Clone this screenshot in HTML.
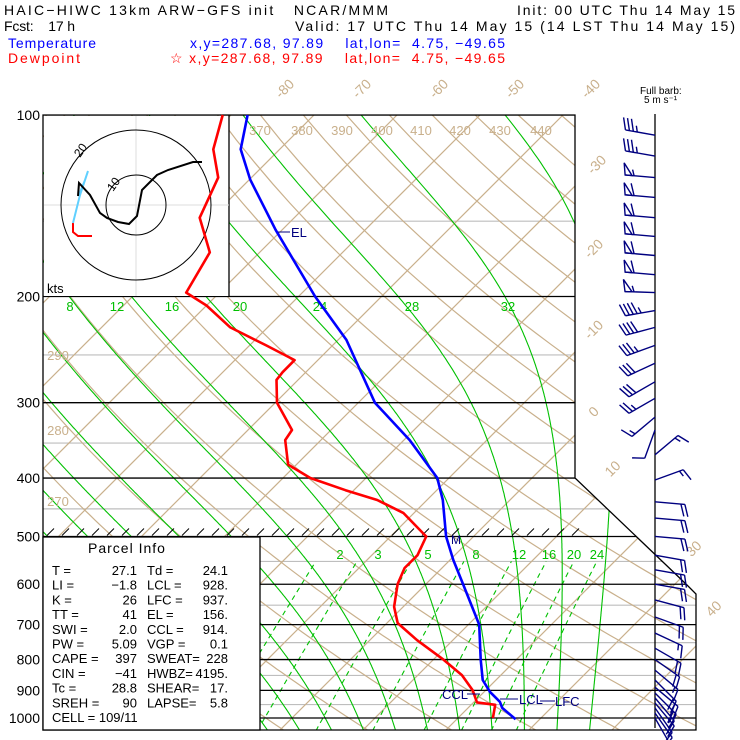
<!DOCTYPE html>
<html><head><meta charset="utf-8">
<style>
html,body{margin:0;padding:0;background:#fff;}
svg{display:block;font-family:"Liberation Sans",sans-serif;}
</style></head>
<body>
<svg id="chart" width="740" height="740" viewBox="0 0 740 740" xmlns="http://www.w3.org/2000/svg">
<defs>
<clipPath id="plotclip"><polygon points="43,115 575,115 575,478 687,585 696,594 696,730 43,730"/></clipPath>
</defs>
<g id="header" font-size="14">
<text x="4" y="15" textLength="384" lengthAdjust="spacing" xml:space="preserve">HAIC−HIWC 13km ARW−GFS init   NCAR/MMM</text>
<text x="517" y="15" textLength="218" lengthAdjust="spacing">Init: 00 UTC Thu 14 May 15</text>
<text x="4" y="31" textLength="71" lengthAdjust="spacing" xml:space="preserve">Fcst:    17 h</text>
<text x="295" y="31" textLength="440" lengthAdjust="spacing">Valid: 17 UTC Thu 14 May 15 (14 LST Thu 14 May 15)</text>
<text x="8" y="48" fill="#0000ff" textLength="88" lengthAdjust="spacing">Temperature</text>
<text x="190" y="48" fill="#0000ff" textLength="315" lengthAdjust="spacing" xml:space="preserve">x,y=287.68, 97.89    lat,lon=  4.75, −49.65</text>
<text x="8" y="63" fill="#ff0000" textLength="72" lengthAdjust="spacing">Dewpoint</text>
<text x="170" y="63" fill="#ff0000" textLength="335" lengthAdjust="spacing" xml:space="preserve">☆ x,y=287.68, 97.89    lat,lon=  4.75, −49.65</text>
<text x="640" y="94" font-size="10">Full barb:</text>
<text x="644" y="103" font-size="10">5 m s⁻¹</text>
</g>
<g id="bg" clip-path="url(#plotclip)"></g>
<g id="outline"></g>
<g id="labels" font-size="14"></g>
<g id="hodo"></g>
<g id="profiles"></g>
<g id="barbs"></g>
<g id="parcel"></g>
</svg>
<script>
// ---- data ----
const tempP = [100,114,128,155,200,236,300,346,400,435,500,547,600,700,800,865,905,940,962,1005];
const tempT = [-78,-74.7,-69.9,-60.8,-48,-39,-28,-19.3,-11.4,-8.1,-3.3,0.4,4.5,11.3,15.7,18.4,20.7,23.1,24.1,27.1];
const dewP = [100,114,127,148,169,197,207,225,241,255,267,275,300,333,346,380,400,419,435,457,500,537,564,600,654,696,743,800,849,899,942,951,1000];
const dewT = [-81,-78,-74,-71.4,-66,-64,-60,-54.5,-48,-42.8,-42.8,-42.6,-39.8,-34.7,-34.3,-31,-26.7,-21,-16,-11.3,-5.7,-4.5,-4.5,-3.4,-1.1,1.3,5.7,11.2,15.3,18.4,20.4,22.9,24.2];
const windP = [108,117,127,137,148,159,171,184,197,211,225,241,258,277,295,317,333,366,403,438,466,500,537,568,600,637,680,723,766,800,833,865,889,909,926,944,962,981,1000];
const windDir = [280,280,275,275,275,275,275,275,272,260,255,250,245,240,240,230,200,50,70,95,95,95,100,100,100,105,110,115,120,125,130,135,130,135,140,140,145,145,150];
const windSpd = [17.5,17.5,27.5,30,30,30,30,30,27.5,22.5,20,17.5,15,15,12.5,7.5,5,7.5,7.5,10,10,10,10,10,10,10,10,7.5,10,10,7.5,10,10,10,7.5,7.5,7.5,5,5];
const isobarLabels = [100,200,300,400,500,600,700,800,900,1000];
const mixRatios = [2,3,5,8,12,16,20,24];
const moistThetaW = [-8,-4,0,4,8,12,16,20,24,28,32,36];

const NS='http://www.w3.org/2000/svg';
function yP(p){return 115+603*Math.log10(p/100);}
function xT(T,p){return 292+8.3*T+(718-yP(p));}
function mk(parent,tag,attrs){const e=document.createElementNS(NS,tag);for(const k in attrs)e.setAttribute(k,attrs[k]);parent.appendChild(e);return e;}
const bg=document.getElementById('bg');
const tan='#c9b08c', green='#00c000';

for(let p=150;p<=1050;p+=100){
  const l=mk(bg,'line',{x1:43,x2:700,y1:yP(p),y2:yP(p),stroke:'#bebebe','stroke-width':1.2});
  
  
}
for(let T=-130;T<=60;T+=10){
  const l=mk(bg,'line',{x1:xT(T,1050),y1:yP(1050),x2:xT(T,100),y2:yP(100),stroke:tan,'stroke-width':1.2});
  
  
}
for(let th=240;th<=460;th+=10){
  let d='';
  for(let p=1050;p>=100;p-=10){const T=th*Math.pow(p/1000,0.286)-273.15;d+=(d?'L':'M')+xT(T,p).toFixed(1)+','+yP(p).toFixed(1);}
  const e=mk(bg,'path',{d:d,fill:'none',stroke:tan,'stroke-width':1.2});
  
  
}
function es(Tc){return 6.112*Math.exp(17.67*Tc/(Tc+243.5));}
function dTdp(T,p){const Tc=T-273.15;const e=es(Tc);const rs=0.622*e/(p-e);return (287*T+2.5e6*rs)/(p*(1004+2.5e6*2.5e6*rs*0.622/(287*T*T)));}
moistThetaW.forEach(tw=>{
  let T=tw+273.15,pts=[];
  let T2=T;for(let p=1000;p<1050;p+=2){T2+=dTdp(T2,p)*2;}
  pts.push([T2-273.15,1050]);
  for(let p=1000;p>=100;p-=2){pts.push([T-273.15,p]);T-=dTdp(T,p)*2;}
  let d='';pts.forEach(q=>{d+=(d?'L':'M')+xT(q[0],q[1]).toFixed(1)+','+yP(q[1]).toFixed(1);});
  const e=mk(bg,'path',{d:d,fill:'none',stroke:green,'stroke-width':1.1});
  
  
});
mixRatios.forEach(w=>{
  let d='';
  for(let p=1050;p>=550;p-=10){const e=w*p/(622+w);const a=Math.log(e/6.112);const Td=243.5*a/(17.67-a);d+=(d?'L':'M')+xT(Td,p).toFixed(1)+','+yP(p).toFixed(1);}
  const e=mk(bg,'path',{d:d,fill:'none',stroke:green,'stroke-width':1.1,'stroke-dasharray':'5,4'});
  
  
});
isobarLabels.forEach(p=>{
  const l=mk(bg,'line',{x1:43,x2:700,y1:yP(p),y2:yP(p),stroke:'#000','stroke-width':1.3});
  
  
});
for(let x=47;x<575;x+=15){
  const l=mk(bg,'line',{x1:x,y1:yP(500)-1,x2:x+7,y2:yP(500)-8,stroke:'#000','stroke-width':1});
  
  
}
const ol=document.getElementById('outline');
const poly=mk(ol,'polygon',{points:'43,115 575,115 575,478 687,585 696,594 696,730 43,730',fill:'none',stroke:'#000','stroke-width':1.3});



const lab=document.getElementById('labels');
function txt(g,x,y,s,attrs,name){const t=mk(g,'text',Object.assign({x:x,y:y},attrs||{}));t.textContent=s;return t;}
isobarLabels.forEach(p=>{txt(lab,40,yP(p)+5,String(p),{'text-anchor':'end'},'pressure-label-'+p);});
const isoLab=[['-80',288,92],['-70',365,92],['-60',442,92],['-50',518,92],['-40',594,92],['-30',600,168],['-20',597,252],['-10',597,333],['0',597,415],['10',616,472],['30',697,552],['40',717,612]];
isoLab.forEach(a=>{txt(lab,a[1],a[2],a[0],{fill:tan,'text-anchor':'middle',transform:'rotate(-45 '+a[1]+' '+a[2]+')'},'isotherm-label');});
const thLab=[['370',260,135],['380',302,135],['390',342,135],['400',382,135],['410',421,135],['420',460,135],['430',500,135],['440',541,135],['290',58,360],['280',58,435],['270',58,506]];
thLab.forEach(a=>{txt(lab,a[1],a[2],a[0],{fill:tan,'text-anchor':'middle','font-size':13},'dry-adiabat-label');});
const mwLab=[['8',70],['12',117],['16',172],['20',240],['24',320],['28',412],['32',508]];
mwLab.forEach(a=>{txt(lab,a[1],311,a[0],{fill:green,'text-anchor':'middle','font-size':13},'moist-adiabat-label');});
const mrLab=[['2',340],['3',378],['5',428],['8',476],['12',519],['16',549],['20',574],['24',597]];
mrLab.forEach(a=>{txt(lab,a[1],559,a[0],{fill:green,'text-anchor':'middle','font-size':13},'mixing-ratio-label');});

const hg=document.getElementById('hodo');
let r=mk(hg,'rect',{x:44,y:116,width:185,height:180,fill:'#fff'});

mk(hg,'line',{x1:229,y1:115,x2:229,y2:296,stroke:'#000','stroke-width':1.3});
mk(hg,'line',{x1:136,y1:116,x2:136,y2:296,stroke:'#ddd'});
mk(hg,'line',{x1:44,y1:205,x2:229,y2:205,stroke:'#ddd'});
let c1=mk(hg,'circle',{cx:136,cy:205,r:30,fill:'none',stroke:'#000'});

let c2=mk(hg,'circle',{cx:136,cy:205,r:75,fill:'none',stroke:'#000'});

txt(hg,113,192,'10',{'font-size':12,transform:'rotate(-55 113 192)'},'hodograph-label-10');
txt(hg,80,158,'20',{'font-size':12,transform:'rotate(-55 80 158)'},'hodograph-label-20');
txt(hg,47,293,'kts',{'font-size':13},'hodograph-units');
let hp=mk(hg,'polyline',{points:'92,236 78,236 73,232 73,223',fill:'none',stroke:'#ff0000','stroke-width':2});

hp=mk(hg,'polyline',{points:'73,223 80,195 88,171 85,180 79,195',fill:'none',stroke:'#60d0ff','stroke-width':2});

hp=mk(hg,'polyline',{points:'78,196 79,183 90,195 100,213 107,218 118,222 129,224 137,216 142,190 157,175 168,170 193,162 202,162',fill:'none',stroke:'#000','stroke-width':2});


const pg=document.getElementById('profiles');
function prof(P,T,color,name){let d='';P.forEach((p,i)=>{d+=(i?'L':'M')+xT(T[i],p).toFixed(1)+','+yP(p).toFixed(1);});const e=mk(pg,'path',{d:d,fill:'none',stroke:color,'stroke-width':2.6,'stroke-linejoin':'round'});}
prof(dewP,dewT,'#ff0000','dewpoint-profile');
prof(tempP,tempT,'#0000ff','temperature-profile');
const navy='#000080';
mk(pg,'line',{x1:278,y1:232,x2:290,y2:232,stroke:navy});
txt(pg,291,237,'EL',{fill:navy,'font-size':13},'el-label');
txt(pg,451,544,'M',{fill:navy,'font-size':12},'melting-level-label');
txt(pg,442,699,'CCL',{fill:navy,'font-size':13},'ccl-label');
mk(pg,'line',{x1:467,y1:694,x2:480,y2:694,stroke:navy});
mk(pg,'line',{x1:500,y1:699,x2:518,y2:699,stroke:navy});
txt(pg,519,704,'LCL',{fill:navy,'font-size':13},'lcl-label');
mk(pg,'line',{x1:540,y1:701,x2:555,y2:701,stroke:navy});
txt(pg,555,706,'LFC',{fill:navy,'font-size':13},'lfc-label');

const bgp=document.getElementById('barbs');
mk(bgp,'line',{x1:655,y1:114,x2:655,y2:728,stroke:'#000','stroke-width':1.3});
windP.forEach((p,i)=>{
  const x0=655,y0=yP(p),d=windDir[i]*Math.PI/180,s=windSpd[i];
  const ux=Math.sin(d),uy=-Math.cos(d),px=-uy,py=ux,L=30;
  const g=mk(bgp,'g',{stroke:navy,fill:'none','stroke-width':1.4});
  
  
  mk(g,'line',{x1:x0,y1:y0,x2:x0+ux*L,y2:y0+uy*L});
  let rem=s,pos=L;
  while(rem>=25){const bx=x0+ux*pos,by=y0+uy*pos,ex=x0+ux*(pos-7),ey=y0+uy*(pos-7);
    mk(g,'polygon',{points:bx+','+by+' '+(bx+px*12+ux*2)+','+(by+py*12+uy*2)+' '+ex+','+ey});pos-=9;rem-=25;}
  while(rem>=5){const bx=x0+ux*pos,by=y0+uy*pos;mk(g,'line',{x1:bx,y1:by,x2:bx+px*12+ux*4,y2:by+py*12+uy*4});pos-=4;rem-=5;}
  if(rem>=2.5){if(pos===L)pos-=4;const bx=x0+ux*pos,by=y0+uy*pos;mk(g,'line',{x1:bx,y1:by,x2:bx+px*6+ux*2,y2:by+py*6+uy*2});}
});

const pc=document.getElementById('parcel');
r=mk(pc,'rect',{x:43,y:537,width:217,height:193,fill:'#fff',stroke:'#000','stroke-width':1.3});

txt(pc,88,553,'Parcel Info',{'font-size':14,'letter-spacing':'1'},'parcel-info-title');
const rows=[['T  =','27.1','Td =','24.1'],['LI =','−1.8','LCL =','928.'],['K  =','26','LFC =','937.'],['TT =','41','EL  =','156.'],['SWI =','2.0','CCL =','914.'],['PW =','5.09','VGP =','0.1'],['CAPE =','397','SWEAT=','228'],['CIN =','−41','HWBZ=','4195.'],['Tc =','28.8','SHEAR=','17.'],['SREH =','90','LAPSE=','5.8']];
rows.forEach((rw,i)=>{const y=575+i*14.7;
  txt(pc,52,y,rw[0],{'font-size':13,'xml:space':'preserve'},'parcel-label');
  txt(pc,137,y,rw[1],{'font-size':13,'text-anchor':'end'},'parcel-value');
  txt(pc,147,y,rw[2],{'font-size':13},'parcel-label');
  txt(pc,228,y,rw[3],{'font-size':13,'text-anchor':'end'},'parcel-value');});
txt(pc,52,575+10*14.7,'CELL = 109/11',{'font-size':13},'parcel-cell');
</script>
</body></html>
